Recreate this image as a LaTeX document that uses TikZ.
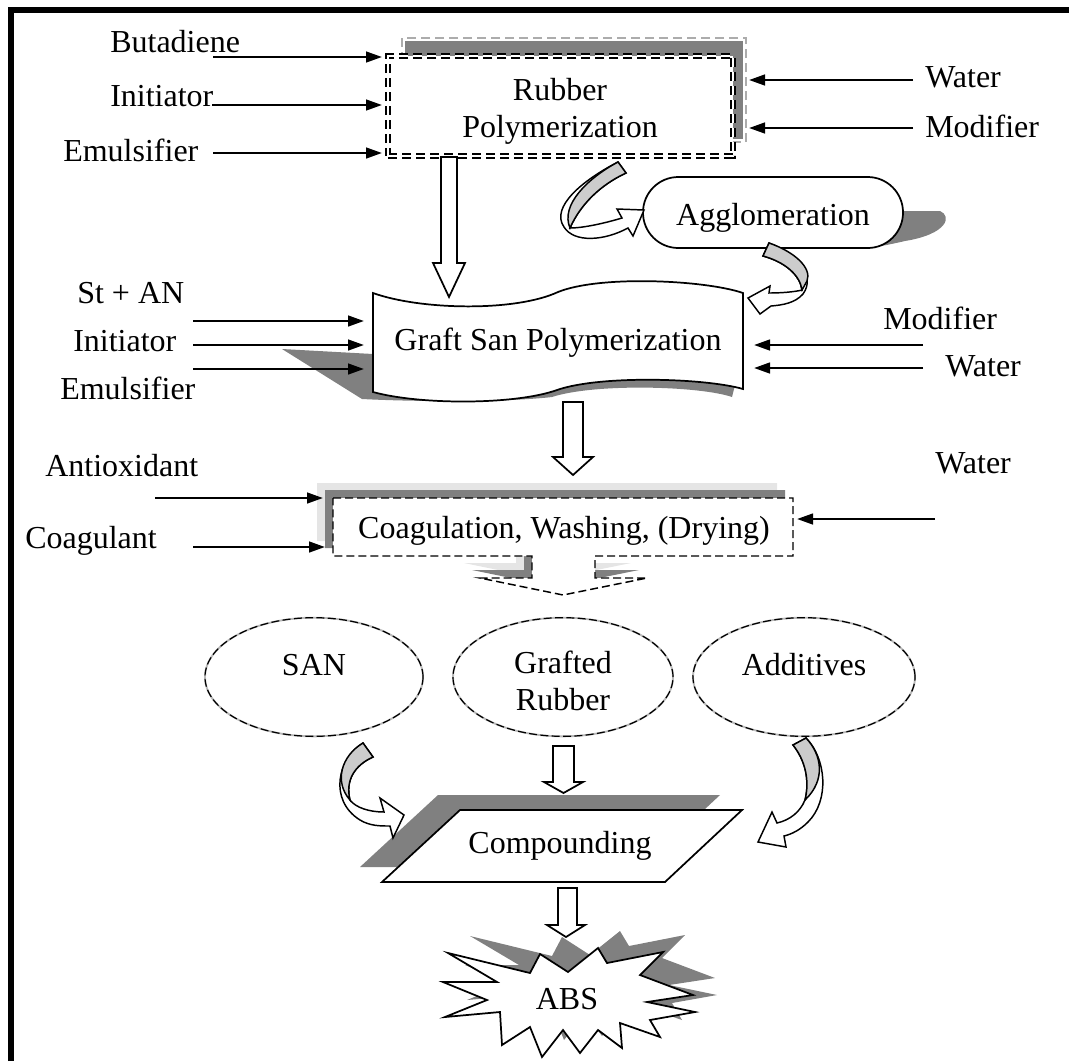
\documentclass[tikz,border=0pt]{standalone}
\usepackage{fontspec}
\setmainfont{Liberation Serif}
\usetikzlibrary{shapes.geometric,arrows.meta}
\begin{document}
\begin{tikzpicture}[x=0.75pt,y=-0.75pt,line join=miter]
\tikzset{
  lbl/.style={font=\fontsize{24}{27.75}\selectfont, inner sep=0pt, anchor=base west},
  ctext/.style={font=\fontsize{24}{27.75}\selectfont, inner sep=0pt, align=center},
  btext/.style={font=\fontsize{24}{27.75}\selectfont, inner sep=0pt, anchor=base},
  feed/.style={line width=1.8pt, -{Triangle[length=12pt,width=8pt]}},
  hollow/.style={draw=black, fill=white, line width=1.3pt},
  ribbonwhite/.style={draw=black, fill=white, line width=1.1pt},
  ribbongray/.style={draw=black, fill=gray!40, line width=1.1pt},
  darkshadow/.style={fill=gray},
  lightshadow/.style={fill=gray!20},
  dashell/.style={ellipse, draw=black, line width=0.9pt, dash pattern=on 6pt off 2.5pt,
    preaction={draw=gray!55, line width=1.4pt, solid}, minimum height=89pt, inner sep=0pt},
  boxline/.style={draw=black, line width=1.3pt}
}
\useasboundingbox (0,0) rectangle (1069,1061);

% frame
\draw[line width=4.5pt] (10.5,1061) -- (10.5,9.5) -- (1069,9.5);

% ---------------- Rubber Polymerization ----------------
\fill[darkshadow] (405,41) rectangle (743,139);
\draw[gray!65, line width=1.5pt, dash pattern=on 7pt off 3.5pt] (402,38) rectangle (746,142);
\node[draw=black, double=white, double distance=2pt, line width=1.4pt,
      dash pattern=on 7pt off 3.5pt, fill=white, minimum width=258.75pt,
      minimum height=75pt, inner sep=0pt] (rub) at (560.5,106) {};
\node[ctext] (rubT) at (560,111) {Rubber\\Polymerization};

\node[lbl] (butadiene) at (110,52) {Butadiene};
\node[lbl] (init1) at (110,106) {Initiator};
\node[lbl] (emul1) at (63,161) {Emulsifier};
\node[lbl] (water1) at (925,87) {Water};
\node[lbl] (modif1) at (925,137) {Modifier};

\coordinate (a1s) at (213,57);  \coordinate (a1e) at (382,57);
\coordinate (a2s) at (212,105); \coordinate (a2e) at (382,105);
\coordinate (a3s) at (213,153); \coordinate (a3e) at (382,153);
\coordinate (a4s) at (913,80);  \coordinate (a4e) at (749,80);
\coordinate (a5s) at (913,128); \coordinate (a5e) at (749,128);
\draw[feed] (a1s) -- (a1e);
\draw[feed] (a2s) -- (a2e);
\draw[feed] (a3s) -- (a3e);
\draw[feed] (a4s) -- (a4e);
\draw[feed] (a5s) -- (a5e);

% ---------------- Agglomeration ----------------
\fill[darkshadow] (880,211) -- (940,211) .. controls (952,216) and (948,234) .. (905,241)
   .. controls (892,244) and (882,246) .. (870,248) -- (860,230) -- cycle;
\node[boxline, fill=white, rounded corners=26.5pt, minimum width=195pt,
      minimum height=53.25pt, inner sep=0pt] (agg) at (773,212.5) {};
\node[btext] (aggT) at (773,225) {Agglomeration};

% curved arrow rubber -> agglomeration
\draw[ribbonwhite] (618,162) .. controls (583,180) and (550,207) .. (564,227)
   .. controls (574,243) and (604,241) .. (628,228) -- (633,236) -- (644,210)
   -- (617,209) -- (622,218) .. controls (602,224) and (582,228) .. (570,228)
   .. controls (580,205) and (600,185) .. (626,173) -- cycle;
\draw[ribbongray] (618,162) .. controls (588,178) and (560,205) .. (570,228)
   .. controls (580,205) and (600,185) .. (626,173) -- cycle;

% curved arrow agglomeration -> graft
\draw[ribbonwhite] (769,243) .. controls (798,254) and (816,276) .. (803,294)
   .. controls (795,303) and (783,305) .. (771,306) -- (760,314) -- (748,298)
   -- (770,286) -- (769,293) .. controls (781,293) and (794,292) .. (802,290)
   .. controls (800,275) and (785,262) .. (763,256) -- cycle;
\draw[ribbongray] (769,243) .. controls (795,252) and (812,268) .. (807,281)
   -- (802,290) .. controls (800,275) and (785,262) .. (763,256) -- cycle;

% hollow arrow rubber -> graft
\draw[hollow] (441,157) -- (457,157) -- (457,263) -- (465,263) -- (449,297)
   -- (433,263) -- (441,263) -- cycle;

% ---------------- Graft San Polymerization ----------------
\fill[darkshadow] (282,349) -- (373,354) -- (743,354) -- (732,397)
   .. controls (700,386) and (595,383) .. (552,397)
   .. controls (510,402) and (420,402) .. (362,399) -- cycle;
\def\graftpath{(373,293) .. controls (420,310) and (515,312) .. (558,292)
   .. controls (600,275) and (705,280) .. (743,293) -- (743,389)
   .. controls (705,378) and (600,375) .. (557,390)
   .. controls (515,405) and (420,405) .. (373,392) -- cycle}
\draw[boxline, fill=white] \graftpath;
\node[btext] (graftT) at (558,350) {Graft San Polymerization};

\node[lbl] (stan) at (77,303) {St + AN};
\node[lbl] (init2) at (73,351) {Initiator};
\node[lbl] (emul2) at (60,399) {Emulsifier};
\node[lbl] (modif2) at (883,329) {Modifier};
\node[lbl] (water2) at (945,376) {Water};

\coordinate (b1s) at (193,321); \coordinate (b1e) at (364,321);
\coordinate (b2s) at (193,345); \coordinate (b2e) at (364,345);
\coordinate (b3s) at (193,369); \coordinate (b3e) at (364,369);
\coordinate (b4s) at (923,345); \coordinate (b4e) at (754,345);
\coordinate (b5s) at (923,368); \coordinate (b5e) at (754,368);
\draw[feed] (b1s) -- (b1e);
\draw[feed] (b2s) -- (b2e);
\draw[feed] (b3s) -- (b3e);
\draw[feed] (b4s) -- (b4e);
\draw[feed] (b5s) -- (b5e);

% hollow arrow graft -> coagulation
\draw[hollow] (563,402) -- (583,402) -- (583,457) -- (593,457) -- (573,475)
   -- (553,457) -- (563,457) -- cycle;

% ---------------- Coagulation ----------------
\def\coagpath{(333,498) -- (793,498) -- (793,556) -- (595,556) -- (595,578)
   -- (647,578) -- (563,595) -- (480,578) -- (532,578) -- (532,556)
   -- (333,556) -- cycle}
\fill[lightshadow, shift={(-16,-15)}] \coagpath;
\fill[darkshadow, shift={(-8,-8)}] \coagpath;
\draw[fill=white, line width=1.1pt, dash pattern=on 6pt off 3pt] \coagpath;
\node[btext] (coagT) at (564,538) {Coagulation, Washing, (Drying)};

\node[lbl] (antiox) at (45,476) {Antioxidant};
\node[lbl] (coagul) at (25,548) {Coagulant};
\node[lbl] (water3) at (935,473) {Water};
\coordinate (c1s) at (155,498); \coordinate (c1e) at (323,498);
\coordinate (c2s) at (193,547); \coordinate (c2e) at (325,547);
\coordinate (c3s) at (935,519); \coordinate (c3e) at (797,519);
\draw[feed] (c1s) -- (c1e);
\draw[feed] (c2s) -- (c2e);
\draw[feed] (c3s) -- (c3e);

% ---------------- ellipses ----------------
\node[dashell, minimum width=163.5pt] (san) at (314,677) {};
\node[dashell, minimum width=165pt] (grr) at (563,677) {};
\node[dashell, minimum width=166.5pt] (add) at (804,677) {};
\node[btext] (sanT) at (314,675) {SAN};
\node[ctext] (grrT) at (563,681) {Grafted\\Rubber};
\node[btext] (addT) at (804,675) {Additives};

% ---------------- Compounding ----------------
\def\comppath{(460,810) -- (742,810) -- (665,882) -- (382,882) -- cycle}
\fill[darkshadow, shift={(-22,-15)}] \comppath;
\draw[boxline, fill=white] \comppath;
\node[btext] (compT) at (560,853) {Compounding};

% hollow arrow grafted rubber -> compounding
\draw[hollow] (553,746) -- (574,746) -- (574,782) -- (583,782) -- (563.5,793)
   -- (544,782) -- (553,782) -- cycle;

% curved arrow SAN -> compounding
\draw[ribbonwhite] (363,743) .. controls (338,758) and (328,800) .. (360,820)
   .. controls (370,826) and (380,826) .. (390,826) -- (393,838) -- (404,815)
   -- (380,798) -- (384,812) .. controls (370,812) and (356,808) .. (350,800)
   .. controls (345,780) and (355,765) .. (373,757) -- cycle;
\draw[ribbongray] (363,743) .. controls (341,756) and (334,782) .. (350,800)
   .. controls (345,780) and (355,765) .. (373,757) -- cycle;

% curved arrow additives -> compounding
\draw[ribbonwhite] (806,738) .. controls (826,758) and (830,800) .. (808,822)
   .. controls (800,830) and (792,834) .. (784,836) -- (786,847) -- (758,842)
   -- (772,812) -- (777,823) .. controls (790,820) and (800,812) .. (805,800)
   .. controls (810,780) and (805,760) .. (793,745) -- cycle;
\draw[ribbongray] (806,738) .. controls (822,755) and (826,780) .. (805,800)
   .. controls (810,780) and (805,760) .. (793,745) -- cycle;

% hollow arrow compounding -> ABS
\draw[hollow] (558,888) -- (577,888) -- (577,925) -- (585,925) -- (566,937)
   -- (547,925) -- (558,925) -- cycle;

% ---------------- ABS star ----------------
\def\abspath{(448,953) -- (530,973) -- (540,954) -- (568,972) -- (598,948)
  -- (607,963) -- (663,952) -- (640,975) -- (693,995) -- (647,1002)
  -- (695,1012) -- (650,1020) -- (660,1037) -- (620,1023) -- (622,1048)
  -- (598,1030) -- (580,1053) -- (563,1030) -- (542,1057) -- (530,1027)
  -- (502,1045) -- (500,1012) -- (445,1017) -- (487,1000) -- (443,982)
  -- (497,982) -- cycle}
\fill[darkshadow, shift={(22,-17)}] \abspath;
\draw[boxline, fill=white] \abspath;
\node[btext] (absT) at (567,1009) {ABS};
\end{tikzpicture}
\end{document}
